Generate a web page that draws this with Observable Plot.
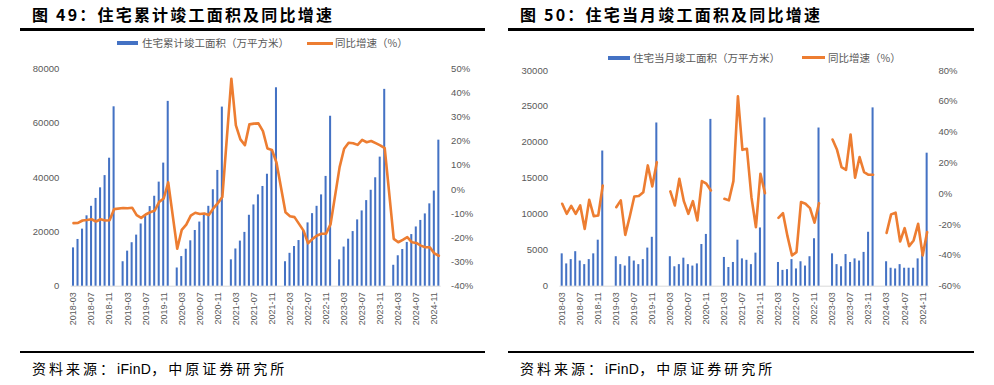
<!DOCTYPE html>
<html><head><meta charset="utf-8">
<script src="https://cdn.jsdelivr.net/npm/d3@7"></script>
<script src="https://cdn.jsdelivr.net/npm/@observablehq/plot@0.6"></script>
<style>
body{margin:0;background:#fff;}
#wrap{position:relative;width:994px;height:385px;background:#fff;overflow:hidden;font-family:"Noto Sans CJK SC","Noto Sans",sans-serif;}
.abs{position:absolute;}
.title{font-size:16px;font-weight:700;letter-spacing:2.2px;line-height:18px;color:#000;white-space:nowrap;}
.rule{background:#000;}
.foot{font-size:14px;letter-spacing:3px;line-height:16px;color:#000;white-space:nowrap;}
.foot .lat{font-family:"Liberation Sans",Arial,sans-serif;letter-spacing:0.3px;}
.leg{font-size:10.5px;line-height:14px;color:#595959;white-space:nowrap;}
</style></head>
<body><div id="wrap">
<div class="abs title" style="left:32px;top:5px;">图 49：住宅累计竣工面积及同比增速</div>
<div class="abs title" style="left:520px;top:5px;">图 50：住宅当月竣工面积及同比增速</div>
<div class="abs rule" style="left:20px;top:28px;width:465px;height:2.5px;"></div>
<div class="abs rule" style="left:508px;top:28px;width:466px;height:2.5px;"></div>

<div class="abs" style="left:117px;top:41px;width:21px;height:4px;background:#4472C4;"></div>
<div class="abs leg" style="left:142px;top:36px;">住宅累计竣工面积（万平方米）</div>
<div class="abs" style="left:307px;top:42px;width:26px;height:2.5px;background:#ED7D31;"></div>
<div class="abs leg" style="left:335px;top:36px;">同比增速（%）</div>

<div class="abs" style="left:608px;top:55.5px;width:22px;height:4px;background:#4472C4;"></div>
<div class="abs leg" style="left:633px;top:50.5px;">住宅当月竣工面积（万平方米）</div>
<div class="abs" style="left:802px;top:56.3px;width:23px;height:2.5px;background:#ED7D31;"></div>
<div class="abs leg" style="left:828px;top:50.5px;">同比增速（%）</div>

<div id="pA1" class="abs" style="left:0;top:0;"></div>
<div id="pA2" class="abs" style="left:0;top:0;"></div>
<div id="pB1" class="abs" style="left:490px;top:0;"></div>
<div id="pB2" class="abs" style="left:490px;top:0;"></div>

<div class="abs rule" style="left:20px;top:350.5px;width:465px;height:2px;"></div>
<div class="abs rule" style="left:508px;top:350.5px;width:466px;height:2px;"></div>
<div class="abs foot" style="left:32px;top:360px;">资料来源：<span class="lat">iFinD</span>，中原证券研究所</div>
<div class="abs foot" style="left:520px;top:360px;">资料来源：<span class="lat">iFinD</span>，中原证券研究所</div>
</div>
<script>
// Category axis: monthly, 2018-03 .. 2024-12
const years = [2018, 2019, 2020, 2021, 2022, 2023, 2024];
const months = [];
for (const y of years) for (let m = 1; m <= 12; m++) {
  if (y === 2018 && m < 3) continue;
  months.push(`${y}-${String(m).padStart(2, "0")}`);
}
const tickLabels = ["2018-03","2018-07","2018-11","2019-03","2019-07","2019-11","2020-03","2020-07","2020-11",
  "2021-03","2021-07","2021-11","2022-03","2022-07","2022-11","2023-03","2023-07","2023-11","2024-03","2024-07","2024-11"];

// 住宅累计竣工面积（万平方米）
const cumArea = [
  14100, 17200, 21000, 25900, 29400, 32300, 36200, 40700, 47100, 66016,
  null, 9000, 12900, 16000, 18800, 22900, 25800, 29300, 33100, 38300, 45300, 68011,
  null, 6700, 10900, 13600, 16700, 20500, 23600, 26300, 29400, 35500, 42600, 65910,
  null, 9700, 13700, 16600, 19800, 26100, 29900, 33600, 36700, 41200, 49700, 73016,
  null, 9000, 12100, 14600, 16800, 20700, 23300, 26700, 29400, 33600, 40400, 62539,
  null, 9700, 14400, 17300, 20100, 24400, 27700, 31500, 35300, 39900, 47500, 72433,
  null, 7700, 11200, 13500, 16100, 19000, 21800, 24200, 26600, 30300, 35000, 53741
];
// 累计同比增速（%）
const cumYoY = [
  -13.9, -13.8, -12.8, -12.6, -12.3, -13.2, -12.3, -12.8, -12.7, -8.1,
  null, -7.6, -7.7, -7.5, -10.6, -11.7, -10.3, -9.4, -8.7, -5.1, -3.7, 3.0,
  null, -24.5, -16.7, -14.5, -10.8, -9.6, -10.1, -9.9, -10.5, -7.8, -5.6, -3.1,
  null, 45.9, 26.6, 20.8, 18.4, 27.0, 27.3, 27.4, 24.2, 17.0, 16.4, 11.2,
  null, -9.4, -11.0, -11.4, -14.2, -17.0, -22.2, -20.4, -19.0, -18.3, -18.3, -14.3,
  null, 9.3, 16.9, 19.4, 19.2, 18.5, 20.6, 19.6, 20.1, 19.2, 18.3, 17.2,
  null, -20.4, -21.8, -20.8, -19.7, -21.8, -22.1, -23.2, -23.9, -23.9, -26.4, -27.4
];
// 住宅当月竣工面积（万平方米）
const monthArea = [
  4500, 3100, 3700, 4800, 3500, 3000, 3700, 4500, 6400, 18800,
  null, null, 4100, 3000, 2800, 4100, 3500, 3000, 3700, 5300, 6800, 22700,
  null, null, 4100, 2700, 3000, 3900, 3000, 2800, 3100, 5800, 7200, 23200,
  null, null, 4000, 2600, 3300, 6400, 3800, 3600, 3000, 4600, 8100, 23400,
  null, null, 3300, 2200, 2300, 3700, 2400, 3400, 2800, 4100, 6600, 22000,
  null, null, 4500, 3000, 2700, 4400, 3300, 3800, 3500, 4700, 7500, 24800,
  null, null, 3400, 2500, 2400, 3000, 2500, 2500, 2500, 3800, 4500, 18500
];
// 当月同比增速（%）
const monthYoY = [
  -6.5, -13.0, -7.8, -13.0, -7.6, -22.8, -3.9, -14.5, -14.1, 5.4,
  null, null, -8.7, -4.3, -26.7, -14.8, -1.8, -1.5, 1.0, 18.4, 4.8, 20.5,
  null, null, 1.5, -7.6, 9.7, -4.8, -13.0, -4.8, -17.3, 8.2, 6.5, 2.1,
  null, null, -3.3, -4.3, 8.2, 63.2, 28.5, 29.2, -2.2, -21.7, 13.0, 0.4,
  null, null, -15.6, -12.6, -27.5, -40.1, -37.9, -5.4, -6.5, -9.3, -18.8, -6.1,
  null, null, 35.2, 28.5, 17.3, 15.5, 38.5, 10.4, 23.8, 14.0, 12.3, 12.3,
  null, null, -25.4, -13.4, -12.3, -31.0, -22.3, -34.0, -30.3, -19.5, -40.0, -24.9
];

const leftTicksA = [0, 20000, 40000, 60000, 80000];
const rightTicksA = [-40, -30, -20, -10, 0, 10, 20, 30, 40, 50];
const leftTicksB = [0, 5000, 10000, 15000, 20000, 25000, 30000];
const rightTicksB = [-60, -40, -20, 0, 20, 40, 60, 80];

const BLUE = "#4472C4", ORANGE = "#ED7D31";
const rows = (vals) => months.map((m, i) => ({month: m, value: vals[i]}));
const style = {background: "transparent", fontFamily: "'Liberation Sans', Arial, sans-serif", fontSize: "9.5px", color: "#595959", overflow: "visible"};

function panel(cfg) {
  const xOpt = {type: "band", domain: months, paddingInner: 0.55, paddingOuter: 0.275, align: 0.5, label: null};
  const dims = {width: cfg.width, height: 340, marginLeft: cfg.ml, marginRight: cfg.mr, marginTop: cfg.mt, marginBottom: 340 - 285.7};
  const bars = Plot.plot({
    ...dims, style,
    x: xOpt,
    y: {domain: cfg.yDomain, label: null},
    marks: [
      Plot.ruleY([0], {stroke: "#d9d9d9"}),
      Plot.barY(rows(cfg.area).filter(d => d.value != null), {x: "month", y: "value", fill: BLUE}),
      Plot.axisY({anchor: "left", label: null, ticks: cfg.leftTicks, tickSize: 0, tickPadding: 12, tickFormat: d3.format("d")}),
      Plot.axisX({label: null, ticks: tickLabels, tickRotate: -90, tickSize: 0, tickPadding: 6, fontSize: 9})
    ]
  });
  const lineData = cfg.connect ? rows(cfg.yoy).filter(d => d.value != null) : rows(cfg.yoy);
  const line = Plot.plot({
    ...dims, style,
    x: {...xOpt, axis: null},
    y: {domain: cfg.pDomain, label: null},
    marks: [
      Plot.line(lineData, {x: "month", y: "value", stroke: ORANGE, strokeWidth: 2.6, strokeLinejoin: "round", strokeLinecap: "round"}),
      Plot.axisY({anchor: "right", label: null, ticks: cfg.rightTicks, tickSize: 0, tickPadding: cfg.rp, tickFormat: d => d + "%"})
    ]
  });
  document.getElementById(cfg.id1).append(bars);
  document.getElementById(cfg.id2).append(line);
}

panel({id1: "pA1", id2: "pA2", width: 490, ml: 70.75, mr: 49.4, mt: 68.3,
  yDomain: [0, 80000], pDomain: [-40, 50], area: cumArea, yoy: cumYoY, connect: true,
  leftTicks: leftTicksA, rightTicks: rightTicksA, rp: 10});
panel({id1: "pB1", id2: "pB2", width: 504, ml: 69.45, mr: 65.1, mt: 70,
  yDomain: [0, 30000], pDomain: [-60, 80], area: monthArea, yoy: monthYoY, connect: false,
  leftTicks: leftTicksB, rightTicks: rightTicksB, rp: 9});
</script>
</body></html>
